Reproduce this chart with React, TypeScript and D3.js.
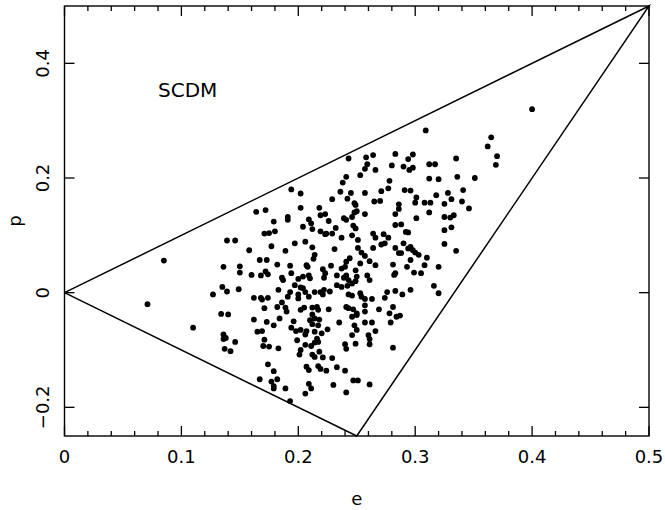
import React from "react";
import * as d3 from "d3";

const eVals: number[] = [
  0.243,0.258,0.264,0.283,0.294,0.259,0.257,0.266,0.280,0.290,0.295,0.253,0.241,0.238,0.278,0.277,0.271,0.291,0.296,
  0.194,0.202,0.236,0.245,0.257,0.242,0.248,0.229,0.265,0.270,0.286,
  0.400,0.309,0.365,0.362,0.370,0.369,0.298,0.298,0.312,0.317,0.335,0.312,0.320,0.336,0.351,0.301,0.318,0.328,0.341,0.331,0.340,0.300,0.308,0.313,0.325,
  0.164,0.172,0.179,0.171,0.175,0.139,0.146,0.177,0.158,0.085,0.167,0.173,0.136,0.150,0.150,0.160,0.168,0.172,0.174,0.135,0.139,0.149,0.127,0.162,0.168,0.169,0.174,0.071,
  0.134,0.140,0.110,0.136,0.136,0.138,0.146,0.137,0.142,0.171,0.162,0.173,0.165,0.169,0.171,0.170,0.175,0.179,0.174,0.167,0.179,0.177,0.179,0.179,
  0.301,0.312,0.346,0.325,0.330,0.333,0.325,0.331,0.325,0.335,0.296,0.298,0.300,0.303,0.310,0.296,0.308,0.320,0.299,0.305,0.316,0.320,0.296,
  0.182,0.189,0.190,0.202,0.205,0.212,0.216,0.217,0.212,0.226,0.241,0.243,0.247,0.250,0.257,0.257,0.269,0.278,0.281,0.284,0.287,
  0.184,0.196,0.194,0.198,0.202,0.207,0.206,0.210,0.214,0.218,0.212,0.217,0.214,0.220,0.225,0.235,0.246,0.250,0.248,0.250,0.257,0.263,0.266,0.279,
  0.246,0.260,0.261,0.261,0.183,0.199,0.206,0.211,0.216,0.217,0.214,0.202,0.201,0.212,0.214,0.218,0.221,0.229,0.240,0.241,0.249,
  0.207,0.209,0.217,0.219,0.224,0.233,0.240,0.182,0.209,0.211,0.206,0.189,0.193,0.230,0.241,0.247,0.251,0.261,0.281,
  0.202,0.218,0.249,0.248,0.250,0.257,0.286,0.283,0.219,0.223,0.191,0.191,0.180,0.209,0.211,0.226,0.239,0.241,0.246,0.247,0.249,
  0.204,0.212,0.219,0.223,0.224,0.232,0.229,0.288,0.283,0.292,0.294,0.264,0.266,0.273,0.277,0.237,0.246,0.251,0.206,0.197,0.212,
  0.189,0.231,0.251,0.254,0.257,0.271,0.274,0.264,0.283,0.286,0.288,0.290,0.294,0.214,0.213,0.182,0.193,0.207,0.208,0.228,0.221,
  0.223,0.222,0.237,0.240,0.241,0.244,0.253,0.261,0.249,0.266,0.281,0.283,0.282,0.293,0.186,0.187,0.194,0.200,0.204,0.209,0.210,
  0.233,0.239,0.241,0.243,0.250,0.249,0.259,0.261,0.276,0.274,0.283,0.289,0.183,0.193,0.191,0.197,0.202,0.204,0.206,0.209,0.200,
  0.200,0.214,0.219,0.222,0.221,0.227,0.233,0.237,0.242,0.246,0.243,0.246,0.253,0.254,0.257,0.263,0.186
];

const pVals: number[] = [
  0.234,0.236,0.240,0.242,0.233,0.224,0.216,0.214,0.222,0.220,0.214,0.205,0.202,0.192,0.195,0.182,0.177,0.179,0.178,
  0.180,0.173,0.176,0.174,0.174,0.164,0.156,0.163,0.159,0.160,0.154,
  0.320,0.283,0.271,0.255,0.238,0.223,0.241,0.218,0.224,0.224,0.234,0.199,0.198,0.202,0.200,0.166,0.170,0.174,0.179,0.163,0.159,0.157,0.157,0.157,0.155,
  0.141,0.144,0.124,0.103,0.104,0.091,0.091,0.081,0.074,0.056,0.057,0.057,0.045,0.046,0.035,0.031,0.030,0.037,0.032,0.010,0.002,0.006,-0.003,-0.009,-0.009,-0.012,-0.009,-0.020,
  -0.037,-0.038,-0.061,-0.073,-0.081,-0.079,-0.086,-0.098,-0.102,-0.027,-0.047,-0.051,-0.068,-0.067,-0.082,-0.093,-0.094,-0.057,-0.125,-0.151,-0.137,-0.155,-0.163,-0.167,
  0.130,0.140,0.147,0.132,0.131,0.135,0.109,0.114,0.085,0.073,0.080,0.074,0.070,0.066,0.061,0.057,0.048,0.045,0.035,0.034,0.012,-0.001,0.005,
  -0.025,-0.026,-0.033,-0.030,-0.026,-0.026,-0.025,-0.030,-0.038,-0.029,-0.025,-0.027,-0.029,-0.036,-0.033,-0.022,-0.029,-0.036,-0.025,-0.042,-0.040,
  -0.045,-0.050,-0.061,-0.067,-0.065,-0.067,-0.073,-0.048,-0.045,-0.047,-0.055,-0.057,-0.068,-0.071,-0.064,-0.052,-0.042,-0.039,-0.057,-0.065,-0.052,-0.052,-0.067,-0.052,
  -0.074,-0.074,-0.081,-0.090,-0.097,-0.083,-0.091,-0.093,-0.080,-0.086,-0.087,-0.100,-0.108,-0.108,-0.112,-0.103,-0.113,-0.114,-0.090,-0.098,-0.089,
  -0.129,-0.135,-0.128,-0.133,-0.136,-0.130,-0.136,-0.151,-0.159,-0.167,-0.176,-0.167,-0.189,-0.161,-0.174,-0.153,-0.153,-0.160,-0.096,
  0.148,0.148,0.153,0.140,0.142,0.137,0.146,0.137,0.135,0.137,0.132,0.127,0.107,0.128,0.121,0.125,0.130,0.127,0.132,0.117,0.112,
  0.115,0.111,0.107,0.102,0.103,0.113,0.103,0.119,0.118,0.106,0.105,0.103,0.096,0.102,0.096,0.096,0.100,0.092,0.089,0.086,0.079,
  0.073,0.076,0.078,0.070,0.064,0.084,0.086,0.078,0.078,0.069,0.069,0.086,0.077,0.066,0.059,0.049,0.047,0.048,0.045,0.047,0.041,
  0.034,0.026,0.042,0.045,0.054,0.060,0.051,0.055,0.039,0.048,0.049,0.034,0.031,0.045,0.026,0.022,0.034,0.024,0.028,0.030,0.025,
  0.030,0.026,0.030,0.022,0.028,0.020,0.030,0.022,0.001,-0.009,0.003,-0.003,0.005,0.001,-0.007,0.013,0.009,0.008,0.001,-0.007,-0.003,
  -0.010,0.001,0.001,0.005,-0.003,0.002,0.013,0.010,0.012,0.016,-0.003,-0.005,-0.001,-0.007,-0.011,-0.011,-0.017
];

const triE: number[] = [0, 0.5, 0.25, 0];
const triP: number[] = [0, 0.5, -0.25, 0];

const xMajor: number[] = [0, 0.1, 0.2, 0.3, 0.4, 0.5];
const xLabels: string[] = ["0", "0.1", "0.2", "0.3", "0.4", "0.5"];
const yMajor: number[] = [-0.2, 0, 0.2, 0.4];
const yLabels: string[] = ["\u22120.2", "0", "0.2", "0.4"];

const W = 665, H = 510;
const FONT = "'DejaVu Sans', Verdana, sans-serif";

export default function App() {
  const x = d3.scaleLinear().domain([0, 0.5]).range([64.5, 649]);
  const y = d3.scaleLinear().domain([-0.25, 0.5]).range([436, 6]);
  const [x0, x1] = x.range();
  const [y0, y1] = y.range();

  const xMinor = d3.range(0, 0.5001, 0.02).filter(v => !xMajor.some(m => Math.abs(m - v) < 1e-6));

  const tri = d3.line<number>().x((_, i) => x(triE[i])).y((_, i) => y(triP[i]));
  const triPath = tri(triE.map((_, i) => i)) || "";

  const pts = eVals.map((e, i) => ({ e, p: pVals[i] }));

  return (
    <svg width={W} height={H} style={{ position: "absolute", left: 0, top: 0, background: "#fff" }}>
      <rect x={0} y={0} width={W} height={H} fill="#fff" />
      <rect x={x0} y={y1} width={x1 - x0} height={y0 - y1} fill="none" stroke="#000" strokeWidth={1.4} />
      {xMajor.map(v => (
        <g key={"xm" + v}>
          <line x1={x(v)} x2={x(v)} y1={y0} y2={y0 - 10} stroke="#000" strokeWidth={1.3} />
          <line x1={x(v)} x2={x(v)} y1={y1} y2={y1 + 10} stroke="#000" strokeWidth={1.3} />
        </g>
      ))}
      {xMinor.map(v => (
        <g key={"xn" + v}>
          <line x1={x(v)} x2={x(v)} y1={y0} y2={y0 - 5} stroke="#000" strokeWidth={1.3} />
          <line x1={x(v)} x2={x(v)} y1={y1} y2={y1 + 5} stroke="#000" strokeWidth={1.3} />
        </g>
      ))}
      {yMajor.map(v => (
        <g key={"ym" + v}>
          <line x1={x0} x2={x0 + 10} y1={y(v)} y2={y(v)} stroke="#000" strokeWidth={1.3} />
          <line x1={x1} x2={x1 - 10} y1={y(v)} y2={y(v)} stroke="#000" strokeWidth={1.3} />
        </g>
      ))}
      {xMajor.map((v, i) => (
        <text key={"xl" + v} x={x(v)} y={463} textAnchor="middle" fontFamily={FONT} fontSize={18} fill="#000">
          {xLabels[i]}
        </text>
      ))}
      {yMajor.map((v, i) => (
        <text key={"yl" + v} transform={`translate(49,${y(v)}) rotate(-90)`} textAnchor="middle" fontFamily={FONT} fontSize={18} fill="#000">
          {yLabels[i]}
        </text>
      ))}
      <text x={(x0 + x1) / 2} y={505} textAnchor="middle" fontFamily={FONT} fontSize={18} fill="#000">e</text>
      <text transform={`translate(21,${(y0 + y1) / 2}) rotate(-90)`} textAnchor="middle" fontFamily={FONT} fontSize={18} fill="#000">p</text>
      <path d={triPath} fill="none" stroke="#000" strokeWidth={1.5} strokeLinejoin="miter" />
      <text x={x(0.08)} y={y(0.342)} fontFamily={FONT} fontSize={20} fill="#000">SCDM</text>
      {pts.map((d, i) => (
        <circle key={i} cx={x(d.e)} cy={y(d.p)} r={2.9} fill="#000" />
      ))}
    </svg>
  );
}
